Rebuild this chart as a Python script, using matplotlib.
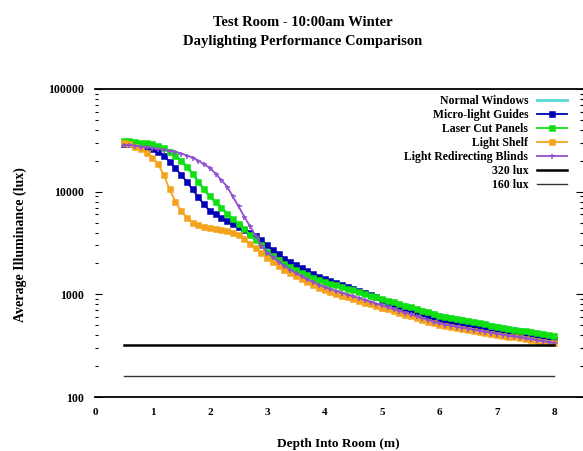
import numpy as np
import matplotlib
matplotlib.use("Agg")
import matplotlib.pyplot as plt
from matplotlib.ticker import FixedLocator, NullFormatter

plt.rcParams['font.family'] = ['Liberation Serif', 'DejaVu Serif']
plt.rcParams['font.weight'] = 'bold'

title_lines = ["Test Room - 10:00am Winter", "Daylighting Performance Comparison"]
x_label = "Depth Into Room (m)"
y_label = "Average Illuminance (lux)"

depth = np.round(np.arange(0.5, 8.001, 0.1), 2)

normal_windows = [
    31000, 31000, 30500, 30000, 29500, 29000, 28000, 26500, 24500, 22500,
    20000, 17500, 15000, 12500, 10500, 9000, 7900, 7000, 6100, 5400,
    4800, 4300, 3800, 3400, 3000, 2600, 2350, 2150, 1980, 1840,
    1720, 1620, 1530, 1450, 1385, 1325, 1275, 1228, 1183, 1140,
    1098, 1058, 1020, 983, 948, 914, 881, 850, 820, 791,
    763, 736, 710, 685, 661, 637, 622, 607, 592, 578,
    564, 551, 538, 525, 513, 501, 490, 479, 469, 459,
    449, 439, 429, 419, 409, 400]
micro_light_guides = [
    29000, 29000, 28500, 28000, 27000, 26000, 24500, 22500, 19500, 17000,
    14500, 12500, 10500, 8800, 7500, 6500, 6000, 5600, 5200, 4800,
    4500, 4200, 3950, 3700, 3400, 3000, 2700, 2450, 2230, 2050,
    1920, 1800, 1700, 1590, 1490, 1400, 1340, 1290, 1232, 1176,
    1122, 1072, 1023, 977, 933, 890, 850, 812, 775, 740,
    706, 674, 644, 615, 587, 560, 547, 534, 521, 508,
    496, 484, 473, 461, 450, 440, 431, 423, 414, 406,
    398, 390, 382, 375, 367, 360]
laser_cut_panels = [
    31000, 31000, 30500, 30000, 29500, 29000, 28000, 26500, 24500, 22500,
    20000, 17500, 15000, 12500, 10500, 9000, 7900, 7000, 6100, 5400,
    4800, 4300, 3800, 3400, 3000, 2600, 2350, 2150, 1980, 1840,
    1720, 1620, 1530, 1450, 1380, 1320, 1270, 1220, 1175, 1132,
    1090, 1050, 1011, 974, 938, 903, 870, 838, 807, 777,
    748, 721, 694, 669, 644, 620, 605, 590, 576, 562,
    548, 535, 522, 509, 497, 485, 475, 464, 454, 444,
    435, 425, 416, 407, 398, 390]
light_shelf = [
    29500, 29000, 27500, 26000, 24000, 21500, 18500, 14500, 10500, 8000,
    6500, 5600, 5000, 4700, 4550, 4450, 4350, 4250, 4150, 4000,
    3750, 3450, 3100, 2800, 2500, 2250, 2060, 1890, 1740, 1610,
    1500, 1400, 1310, 1230, 1160, 1100, 1050, 1010, 972, 935,
    899, 865, 832, 800, 770, 740, 712, 685, 659, 634,
    610, 587, 565, 543, 522, 502, 491, 480, 470, 460,
    450, 440, 430, 421, 412, 403, 395, 388, 380, 373,
    366, 359, 352, 345, 339, 333]
redirecting_blinds = [
    28500, 28500, 28000, 27500, 27000, 26500, 26000, 25500, 25000, 24500,
    23500, 22500, 21500, 20000, 18500, 17000, 15000, 13000, 11200, 9000,
    7200, 5700, 4600, 3700, 2950, 2550, 2300, 2080, 1890, 1740,
    1610, 1500, 1400, 1320, 1240, 1170, 1120, 1080, 1037, 996,
    956, 918, 881, 846, 813, 780, 749, 719, 691, 663,
    637, 611, 587, 564, 541, 520, 508, 497, 486, 475,
    464, 454, 444, 434, 424, 415, 406, 397, 389, 381,
    372, 365, 357, 349, 342, 335]
lux_320 = 320
lux_160 = 160

series = [
    ("Normal Windows", normal_windows, '#5ad6d6', None),
    ("Micro-light Guides", micro_light_guides, '#0000b4', 's'),
    ("Laser Cut Panels", laser_cut_panels, '#10e010', 's'),
    ("Light Shelf", light_shelf, '#f4a41c', 's'),
    ("Light Redirecting Blinds", redirecting_blinds, '#9050d0', '+'),
]

fig = plt.figure(figsize=(5.83, 4.51), dpi=100)
ax = fig.add_axes([95 / 583, 1 - 397 / 451, 488 / 583, (397 - 89) / 451])

for name, vals, col, mk in series:
    if mk is None:
        ax.plot(depth, vals, color=col, lw=2.0, label=name)
    else:
        ax.plot(depth, vals, color=col, lw=1.3, marker=mk, markersize=3.6,
                markeredgewidth=1.1, label=name)

ax.plot([depth[0], depth[-1]], [lux_320, lux_320], color='black', lw=1.8, label="320 lux")
ax.plot([depth[0], depth[-1]], [lux_160, lux_160], color='#333333', lw=1.0, label="160 lux")

ax.set_yscale('log')
ax.set_ylim(100, 100000)
ax.set_xlim(0, 8.5)

ax.set_xticks(range(9))
ax.set_xticklabels([str(i) for i in range(9)], fontsize=8, fontweight='bold')
ax.xaxis.set_minor_locator(FixedLocator([2, 3, 4, 7, 8]))
ax.tick_params(axis='x', which='major', length=0, pad=8)
ax.tick_params(axis='x', which='minor', length=4, width=0.8, direction='in', top=True, bottom=True)

ax.set_yticks([100, 1000, 10000, 100000])
ax.set_yticklabels(["100", "1000", "10000", "100000"], fontsize=8.5, fontweight='bold')
ax.yaxis.set_minor_formatter(NullFormatter())
ax.tick_params(axis='y', which='major', length=5, width=0.8, direction='in', right=True, pad=8)
ax.tick_params(axis='y', which='minor', length=2, width=0.8, direction='in', right=True)

for s in ['left', 'right']:
    ax.spines[s].set_visible(False)
for s in ['top', 'bottom']:
    ax.spines[s].set_linewidth(1.3)

ax.set_xlabel(x_label, fontsize=9.5, fontweight='bold')
ax.xaxis.label.set_va('center')
ax.xaxis.set_label_coords((338 - 95) / 488, (397 - 444) / 308)
ax.set_ylabel(y_label, fontsize=10, fontweight='bold')
ax.yaxis.label.set_va('center')
ax.yaxis.set_label_coords((20 - 95) / 488, (397 - 245) / 308)

fig.text(303 / 583, 1 - 22 / 451, title_lines[0], ha='center', va='center', fontsize=10.5, fontweight='bold')
fig.text(303 / 583, 1 - 41 / 451, title_lines[1], ha='center', va='center', fontsize=10.5, fontweight='bold')

leg = ax.legend(loc='upper right', bbox_to_anchor=((572 - 95) / 488, 1 - 1 / 308),
                frameon=False, markerfirst=False, numpoints=1, handlelength=2.6,
                handletextpad=0.7, labelspacing=0.17, borderaxespad=0,
                prop={'size': 8.5, 'weight': 'bold'})

fig.savefig("out.png", dpi=100)
